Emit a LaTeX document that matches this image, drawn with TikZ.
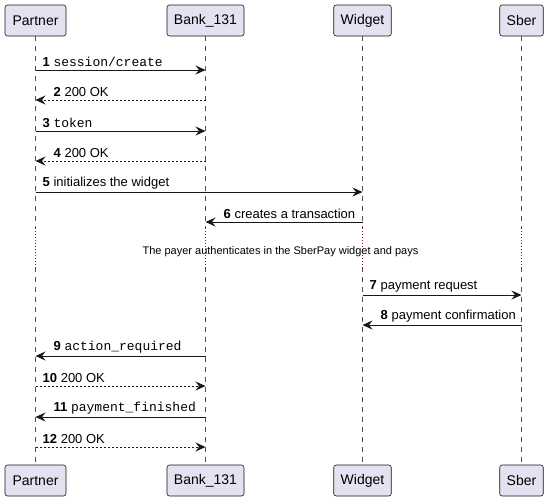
\documentclass[tikz,border=0pt]{standalone}
\usepackage{fontspec}
\setmainfont{Liberation Sans}
\setmonofont{Liberation Mono}
\usetikzlibrary{arrows.meta}
\definecolor{boxfill}{HTML}{E2E2F0}
\definecolor{boxline}{HTML}{181818}
\definecolor{delayred}{HTML}{8B1040}
\tikzset{
  partbox/.style={draw=boxline, fill=boxfill, line width=0.6pt, rounded corners=2.5pt,
    minimum height=31pt, inner xsep=7pt, font=\fontsize{14}{16}\selectfont, anchor=center},
  lifeline/.style={draw=boxline!75, line width=0.6pt, dash pattern=on 5pt off 5pt},
  delayline/.style={draw=delayred, line width=0.8pt, dash pattern=on 0.8pt off 2.2pt},
  syncmsg/.style={draw=boxline, line width=0.9pt, -{Stealth[length=10pt,width=9pt,inset=3.5pt]}},
  replymsg/.style={syncmsg, dash pattern=on 2pt off 2pt},
  msglabel/.style={anchor=south west, inner sep=0pt, font=\fontsize{13}{15}\selectfont},
}
% #1 from, #2 to, #3 y, #4 style, #5 number, #6 text
\newcommand\msgright[6]{%
  \coordinate (s#5) at (#1 |- 0,#3);
  \coordinate (e#5) at (#2 |- 0,#3);
  \draw[#4] (s#5) -- (e#5);
  \node[msglabel] (l#5) at ([xshift=7pt,yshift=3pt]s#5) {\textbf{#5} #6};}
\newcommand\msgleft[6]{%
  \coordinate (s#5) at (#1 |- 0,#3);
  \coordinate (e#5) at (#2 |- 0,#3);
  \draw[#4] (s#5) -- (e#5);
  \node[msglabel] (l#5) at ([xshift=18pt,yshift=3pt]e#5) {\textbf{#5} #6};}
\begin{document}
\begin{tikzpicture}[x=1pt,y=-1pt]
\useasboundingbox (0,0) rectangle (548,501);
% participants
\node[partbox, minimum width=61pt] (pt) at (35.5,20.5) {Partner};
\node[partbox, minimum width=77pt] (bt) at (205.5,20.5) {Bank\_131};
\node[partbox, minimum width=57pt] (wt) at (362.5,20.5) {Widget};
\node[partbox, minimum width=43.5pt] (st) at (521.5,20.5) {Sber};
\node[partbox, minimum width=61pt] (pb) at (35.5,480.5) {Partner};
\node[partbox, minimum width=77pt] (bb) at (205.5,480.5) {Bank\_131};
\node[partbox, minimum width=57pt] (wb) at (362.5,480.5) {Widget};
\node[partbox, minimum width=43.5pt] (sb) at (521.5,480.5) {Sber};
% lifelines with delay section
\foreach \t/\b in {pt/pb,bt/bb,wt/wb,st/sb}{
  \coordinate (\t d1) at (\t |- 0,228);
  \coordinate (\t d2) at (\t |- 0,267);
  \draw[lifeline] (\t.south) -- (\t d1);
  \draw[delayline] (\t d1) -- (\t d2);
  \draw[lifeline] (\t d2) -- (\b.north);
}
% messages
\msgright{pt}{bt}{70}{syncmsg}{1}{\texttt{session/create}}
\msgleft{bt}{pt}{100}{replymsg}{2}{200 OK}
\msgright{pt}{bt}{131}{syncmsg}{3}{\texttt{token}}
\msgleft{bt}{pt}{161}{replymsg}{4}{200 OK}
\msgright{pt}{wt}{192}{syncmsg}{5}{initializes the widget}
\msgleft{wt}{bt}{222}{syncmsg}{6}{creates a transaction}
\node[font=\fontsize{11}{13}\selectfont, inner sep=0pt] (delay) at (280.5,252) {The payer authenticates in the SberPay widget and pays};
\msgright{wt}{st}{295}{syncmsg}{7}{payment request}
\msgleft{st}{wt}{325}{syncmsg}{8}{payment confirmation}
\msgleft{bt}{pt}{356}{syncmsg}{9}{\texttt{action\_required}}
\msgright{pt}{bt}{386}{replymsg}{10}{200 OK}
\msgleft{bt}{pt}{417}{syncmsg}{11}{\texttt{payment\_finished}}
\msgright{pt}{bt}{447}{replymsg}{12}{200 OK}
\end{tikzpicture}
\end{document}
